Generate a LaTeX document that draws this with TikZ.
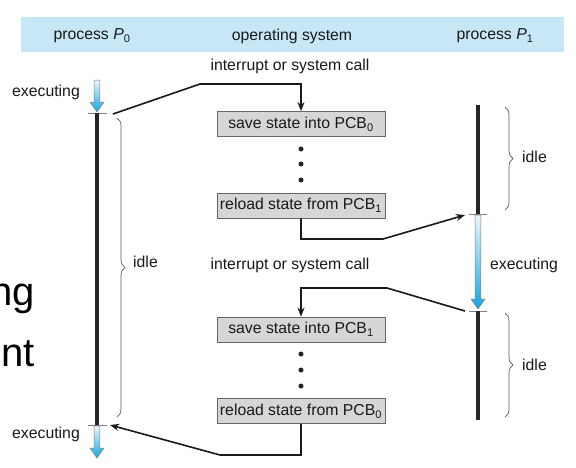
\documentclass[tikz,border=0pt]{standalone}
\usepackage{fontspec}
\setmainfont{Liberation Sans}
\usetikzlibrary{arrows.meta,decorations.pathreplacing}
\definecolor{band}{RGB}{199,231,247}
\definecolor{boxfill}{RGB}{214,214,214}
\definecolor{txt}{RGB}{25,25,25}
\definecolor{cyanA}{RGB}{20,165,225}
\definecolor{paleA}{RGB}{236,246,252}
\newcommand\gradarrow[3]{%
  \shade[top color=paleA, bottom color=cyanA, draw=gray, line width=0.5pt]
    (#1-2.8,#2) -- (#1+2.8,#2) -- (#1+2.8,#3-10) -- (#1+7,#3-10) -- (#1,#3)
    -- (#1-7,#3-10) -- (#1-2.8,#3-10) -- cycle;}
\begin{document}
\begin{tikzpicture}[x=1pt,y=-1pt,
  lbl/.style={font=\fontsize{15.8}{18}\selectfont, text=txt, inner sep=0pt},
  statebox/.style={lbl, draw=gray!80!black, fill=boxfill, minimum width=168pt, minimum height=25pt, line width=0.8pt},
  conn/.style={line width=1.6pt, draw=black!90},
  tipped/.style={-{Stealth[length=9pt,width=7pt]}},
  timeline/.style={line width=4.2pt, draw=black!85},
  tickmark/.style={line width=0.7pt, draw=gray},
  bracestyle/.style={decorate, decoration={brace, amplitude=8pt}, draw=gray!70!black, line width=0.7pt},
  dotstyle/.style={circle, fill=black!85, inner sep=0pt, minimum size=5pt},
  bigtext/.style={font=\fontsize{40}{44}\selectfont, text=black, inner sep=0pt}]
\useasboundingbox (0,0) rectangle (576,467);
\fill[white] (0,0) rectangle (576,467);
% header
\node[fill=band, minimum width=543pt, minimum height=35pt, inner sep=0pt, anchor=north west] (band) at (21,17) {};
\node[lbl] (hP0) at (92,36) {process \textit{P}\textsubscript{0}};
\node[lbl] (hOS) at (292,36) {operating system};
\node[lbl] (hP1) at (495,36) {process \textit{P}\textsubscript{1}};
% background slide fragments
\node[bigtext, anchor=base east] (frag1) at (35,305) {ng};
\node[bigtext, anchor=base east] (frag2) at (35,366) {nt};
% OS column
\node[lbl] (int1) at (290,66) {interrupt or system call};
\node[statebox] (save0) at (301,124) {save state into PCB\textsubscript{0}};
\node[dotstyle] (d1) at (301,149) {};
\node[dotstyle] (d2) at (301,164) {};
\node[dotstyle] (d3) at (301,180) {};
\node[statebox] (reload1) at (301,205.5) {reload state from PCB\textsubscript{1}};
\node[lbl] (int2) at (290,265) {interrupt or system call};
\node[statebox] (save1) at (301,329.5) {save state into PCB\textsubscript{1}};
\node[dotstyle] (d4) at (301,354) {};
\node[dotstyle] (d5) at (301,370) {};
\node[dotstyle] (d6) at (301,386) {};
\node[statebox] (reload0) at (301,411) {reload state from PCB\textsubscript{0}};
% P0 timeline
\gradarrow{97}{80}{112}
\draw[tickmark] (88,113) -- (107,113);
\draw[timeline] (97,113) -- (97,425);
\draw[tickmark] (88,425) -- (107,425);
\gradarrow{97}{426}{458}
\node[lbl, anchor=east] (ex0a) at (80,92) {executing};
\node[lbl, anchor=east] (ex0b) at (80,434) {executing};
\draw[bracestyle] (117,118) -- (117,417);
\node[lbl, anchor=west] (idle0) at (133,262) {idle};
% P1 timeline
\draw[timeline] (478,105) -- (478,214);
\draw[tickmark] (469,214) -- (487,214);
\gradarrow{478}{215}{309}
\draw[tickmark] (469,311) -- (487,311);
\draw[timeline] (478,311) -- (478,420);
\node[lbl, anchor=west] (ex1) at (490,265) {executing};
\draw[bracestyle] (505,107) -- (505,210);
\node[lbl, anchor=west] (idle1a) at (522,157) {idle};
\draw[bracestyle] (505,313) -- (505,417);
\node[lbl, anchor=west] (idle1b) at (522,365) {idle};
% connector endpoints
\coordinate (p0stop) at (113,114);
\coordinate (p1start) at (465,215);
\coordinate (p1stop) at (465,311);
\coordinate (p0start) at (110,425);
% connectors
\draw[conn, tipped] (p0stop) -- (200,84) -- (save0.north |- 0,84) -- (save0.north);
\draw[conn, tipped] (reload1.south) -- (reload1.south |- 0,239) -- (383,239) -- (p1start);
\draw[conn, tipped] (p1stop) -- (387,288) -- (save1.north |- 0,288) -- (save1.north);
\draw[conn, tipped] (reload0.south) -- (reload0.south |- 0,455) -- (220,455) -- (p0start);
\end{tikzpicture}
\end{document}
